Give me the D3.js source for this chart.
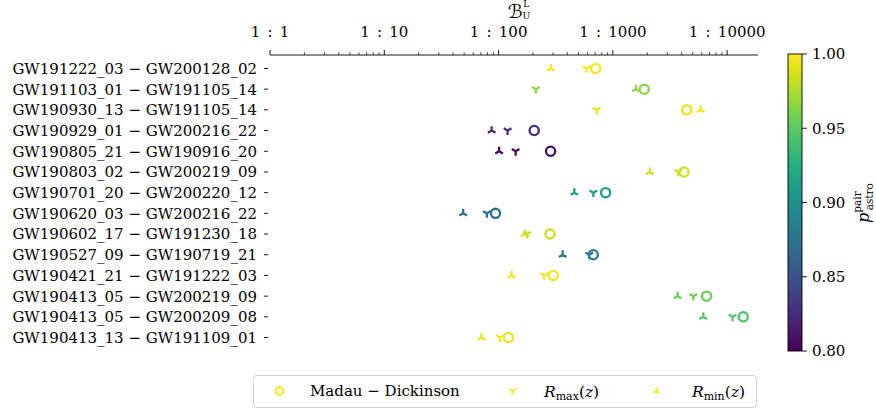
<!DOCTYPE html>
<html>
<head>
<meta charset="utf-8">
<script src="https://cdn.jsdelivr.net/npm/d3@7"></script>
<style>
  html, body { margin: 0; padding: 0; background: #fff; }
  svg { display: block; }
  text { font-family: "DejaVu Serif", "Liberation Serif", serif; fill: #000; }
</style>
</head>
<body>
<svg id="chart" width="876" height="412"></svg>
<script>
// Event pairs (top row first)
const pairs = [
  "GW191222_03 − GW200128_02",
  "GW191103_01 − GW191105_14",
  "GW190930_13 − GW191105_14",
  "GW190929_01 − GW200216_22",
  "GW190805_21 − GW190916_20",
  "GW190803_02 − GW200219_09",
  "GW190701_20 − GW200220_12",
  "GW190620_03 − GW200216_22",
  "GW190602_17 − GW191230_18",
  "GW190527_09 − GW190719_21",
  "GW190421_21 − GW191222_03",
  "GW190413_05 − GW200219_09",
  "GW190413_05 − GW200209_08",
  "GW190413_13 − GW191109_01"
];
// Probability that the pair is astrophysical
const pAstro = [0.997, 0.965, 0.995, 0.825, 0.806, 0.985, 0.912, 0.876, 0.984, 0.885, 0.996, 0.955, 0.944, 0.995];
// Bayes factor denominators (1 : B) for each merger-rate model
const bfMadau = [707, 1883, 4425, 205, 285, 4189, 865, 94, 282, 674, 301, 6610, 13830, 122];
const bfRmax  = [590, 212, 721, 120, 141, 3740, 675, 79, 178, 622, 251, 5054, 11170, 103];
const bfRmin  = [287, 1592, 5865, 87, 101, 2112, 460, 49, 170, 364, 130, 3690, 6180, 71];
// Top axis major ticks
const majorTicks = [1, 10, 100, 1000, 10000];
const colorTicks = [0.80, 0.85, 0.90, 0.95, 1.00];

const svg = d3.select("#chart");
const plotL = 270, plotR = 758, plotT = 55, plotB = 351;

const x = d3.scaleLog().domain([1, Math.pow(10, 4.27)]).range([plotL, plotR]);
const y = d3.scaleLinear().domain([-0.65, 13.65]).range([plotT, plotB]);
const cScale = d3.scaleLinear().domain([0.8, 1.0]).range([0, 1]);
const color = v => d3.interpolateViridis(cScale(v));

// Top axis: spine + major and minor ticks
const axisG = svg.append("g");
axisG.append("line").attr("x1", plotL).attr("x2", plotR).attr("y1", plotT).attr("y2", plotT)
  .attr("stroke", "#000").attr("stroke-width", 0.9);
const minor = [];
for (let d = 1; d <= 10000; d *= 10) for (let k = 2; k <= 9; k++) if (d * k <= x.domain()[1]) minor.push(d * k);
axisG.selectAll(".minor").data(minor).join("line")
  .attr("x1", d => x(d)).attr("x2", d => x(d)).attr("y1", plotT).attr("y2", plotT - 2.8)
  .attr("stroke", "#000").attr("stroke-width", 0.7);
axisG.selectAll(".major").data(majorTicks).join("line")
  .attr("x1", d => x(d)).attr("x2", d => x(d)).attr("y1", plotT).attr("y2", plotT - 5)
  .attr("stroke", "#000").attr("stroke-width", 0.9);
axisG.selectAll(".tl").data(majorTicks).join("text")
  .attr("x", d => x(d)).attr("y", 37).attr("text-anchor", "middle")
  .attr("font-size", 15).attr("word-spacing", "2.5px")
  .text(d => "1 : " + d);

// Axis title: script B with L superscript and U subscript
const title = svg.append("text").attr("x", 519).attr("y", 18).attr("text-anchor", "middle");
title.append("tspan").attr("font-size", 19).attr("font-family", "DejaVu Sans").text("ℬ");
title.append("tspan").attr("font-size", 9).attr("dx", 0.5).attr("dy", -11).text("L");
title.append("tspan").attr("font-size", 9).attr("dx", -6.2).attr("dy", 12).text("U");

// Y tick marks and labels
const yG = svg.append("g");
yG.selectAll("line").data(pairs).join("line")
  .attr("x1", plotL - 6).attr("x2", plotL - 2).attr("y1", (d, i) => y(i)).attr("y2", (d, i) => y(i))
  .attr("stroke", "#000").attr("stroke-width", 0.9);
yG.selectAll("text").data(pairs).join("text")
  .attr("x", 257).attr("y", (d, i) => y(i)).attr("dy", "0.36em")
  .attr("text-anchor", "end").attr("font-size", 15)
  .text(d => d);

// Marker shapes
const arm = 4.4;
function tri(down) {
  const s = down ? 1 : -1;
  return `M0,0L0,${s * arm}M0,0L${-0.866 * arm},${-s * 0.5 * arm}M0,0L${0.866 * arm},${-s * 0.5 * arm}`;
}

const marks = svg.append("g");
marks.selectAll(".md").data(bfMadau).join("circle")
  .attr("cx", d => x(d)).attr("cy", (d, i) => y(i)).attr("r", 4.6)
  .attr("fill", "none").attr("stroke", (d, i) => color(pAstro[i])).attr("stroke-width", 2.3);
marks.selectAll(".rmax").data(bfRmax).join("path")
  .attr("d", tri(true)).attr("transform", (d, i) => `translate(${x(d)},${y(i)})`)
  .attr("fill", "none").attr("stroke", (d, i) => color(pAstro[i])).attr("stroke-width", 2.3);
marks.selectAll(".rmin").data(bfRmin).join("path")
  .attr("d", tri(false)).attr("transform", (d, i) => `translate(${x(d)},${y(i)})`)
  .attr("fill", "none").attr("stroke", (d, i) => color(pAstro[i])).attr("stroke-width", 2.3);

// Colorbar
const cbX = 788, cbW = 14, cbTop = 54, cbBottom = 351;
const cy = d3.scaleLinear().domain([0.8, 1.0]).range([cbBottom, cbTop]);
const defs = svg.append("defs");
const grad = defs.append("linearGradient").attr("id", "vir").attr("x1", 0).attr("y1", 1).attr("x2", 0).attr("y2", 0);
d3.range(0, 1.0001, 0.05).forEach(t => grad.append("stop").attr("offset", t).attr("stop-color", d3.interpolateViridis(t)));
svg.append("rect").attr("x", cbX).attr("y", cbTop).attr("width", cbW).attr("height", cbBottom - cbTop)
  .attr("fill", "url(#vir)").attr("stroke", "#000").attr("stroke-width", 0.9);
const cbG = svg.append("g");
cbG.selectAll("line").data(colorTicks).join("line")
  .attr("x1", cbX + cbW).attr("x2", cbX + cbW + 5).attr("y1", d => cy(d)).attr("y2", d => cy(d))
  .attr("stroke", "#000").attr("stroke-width", 0.9);
cbG.selectAll("text").data(colorTicks).join("text")
  .attr("x", cbX + cbW + 10).attr("y", d => cy(d)).attr("dy", "0.36em")
  .attr("font-size", 15).text(d => d.toFixed(2));
const cbl = svg.append("text").attr("transform", "translate(869,203) rotate(-90)").attr("text-anchor", "middle");
cbl.append("tspan").attr("font-size", 16).attr("font-style", "italic").text("p");
cbl.append("tspan").attr("font-size", 10.5).attr("dy", -8).text("pair");
cbl.append("tspan").attr("font-size", 10.5).attr("dx", -19).attr("dy", 12).text("astro");

// Legend
const lg = svg.append("g");
lg.append("rect").attr("x", 253.5).attr("y", 375.5).attr("width", 503).attr("height", 32).attr("rx", 3)
  .attr("fill", "#fff").attr("stroke", "#d0d0d0").attr("stroke-width", 1);
const ly = 391;
const legendColor = color(1.0);
lg.append("circle").attr("cx", 279.5).attr("cy", ly).attr("r", 3.8).attr("fill", "none")
  .attr("stroke", legendColor).attr("stroke-width", 2.2);
lg.append("text").attr("x", 310).attr("y", ly).attr("dy", "0.36em").attr("font-size", 15)
  .text("Madau − Dickinson");
lg.append("path").attr("d", tri(true)).attr("fill", "none")
  .attr("stroke", legendColor).attr("stroke-width", 2.2).attr("transform", `translate(512.5,${ly}) scale(0.85)`);
const t1 = lg.append("text").attr("x", 544).attr("y", ly).attr("dy", "0.36em").attr("font-size", 15.5);
t1.append("tspan").attr("font-style", "italic").text("R");
t1.append("tspan").attr("font-size", 11).attr("dy", 3).text("max");
t1.append("tspan").attr("dy", -3).text("(");
t1.append("tspan").attr("font-style", "italic").text("z");
t1.append("tspan").text(")");
lg.append("path").attr("d", tri(false)).attr("fill", "none")
  .attr("stroke", legendColor).attr("stroke-width", 2.2).attr("transform", `translate(656.5,${ly}) scale(0.85)`);
const t2 = lg.append("text").attr("x", 692).attr("y", ly).attr("dy", "0.36em").attr("font-size", 15.5);
t2.append("tspan").attr("font-style", "italic").text("R");
t2.append("tspan").attr("font-size", 11).attr("dy", 3).text("min");
t2.append("tspan").attr("dy", -3).text("(");
t2.append("tspan").attr("font-style", "italic").text("z");
t2.append("tspan").text(")");
</script>
</body>
</html>
